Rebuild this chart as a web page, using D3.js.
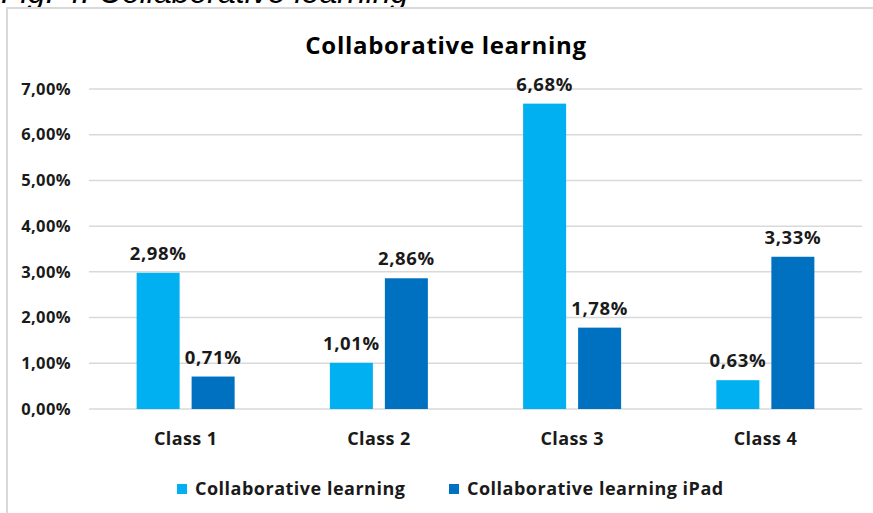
<!DOCTYPE html>
<html>
<head>
<meta charset="utf-8">
<script src="https://cdn.jsdelivr.net/npm/d3@7"></script>
<style>
  body { margin: 0; background: #fff; }
  text { font-family: "Open Sans", Lato, sans-serif; }
</style>
</head>
<body>
<div id="chart"></div>
<script>
// chart data
let categories = ["Class 1", "Class 2", "Class 3", "Class 4"];
let seriesNames = ["Collaborative learning", "Collaborative learning iPad"];
let seriesColors = ["#00b0f0", "#0070c0"];
let collab = [2.98, 1.01, 6.68, 0.63];
let collabIpad = [0.71, 2.86, 1.78, 3.33];
let tickValues = [0, 1, 2, 3, 4, 5, 6, 7];

let width = 873;
let height = 513;

let svg = d3.select("#chart").append("svg")
    .attr("width", width)
    .attr("height", height);

// caption cut off at the top
svg.append("text")
    .attr("x", 1)
    .attr("y", 3)
    .attr("font-style", "italic")
    .attr("font-size", 32)
    .attr("fill", "#000")
    .style("font-family", "'Liberation Sans', Arial, sans-serif")
    .text("Fig. 4: Collaborative learning");

// chart frame
svg.append("rect")
    .attr("x", 7)
    .attr("y", 8)
    .attr("width", 880)
    .attr("height", 520)
    .attr("fill", "#fff")
    .attr("stroke", "#d9d9d9")
    .attr("stroke-width", 2);

let margin = { left: 89, right: 862, top: 89, bottom: 409 };

let x = d3.scaleBand()
    .domain(categories)
    .range([margin.left, margin.right]);

// two bars per class, 43px wide with a 12px gap
let xs = d3.scaleBand()
    .domain(seriesNames)
    .range([0, 98])
    .paddingInner(0.218);

let y = d3.scaleLinear()
    .domain([0, 7])
    .range([margin.bottom, margin.top]);

// gridlines
svg.append("g")
    .selectAll("line")
    .data(tickValues)
    .join("line")
    .attr("x1", margin.left)
    .attr("x2", margin.right)
    .attr("y1", d => y(d))
    .attr("y2", d => y(d))
    .attr("stroke", "#d9d9d9")
    .attr("stroke-width", 1.5);

let fmt = v => v.toFixed(2).replace(".", ",") + "%";

// y tick labels
svg.append("g")
    .selectAll("text")
    .data(tickValues)
    .join("text")
    .attr("x", 71)
    .attr("y", d => y(d))
    .attr("dy", "0.35em")
    .attr("text-anchor", "end")
    .attr("font-size", 16.5)
    .attr("font-weight", "bold")
    .attr("letter-spacing", 0.4)
    .attr("fill", "#1a1a1a")
    .text(fmt);

// bars
let rows = categories.map((c, i) => ({ cat: c, vals: [collab[i], collabIpad[i]] }));

let groups = svg.append("g")
    .selectAll("g")
    .data(rows)
    .join("g")
    .attr("transform", d => `translate(${x(d.cat) + x.bandwidth() / 2 - 49},0)`);

let bars = groups.selectAll("g")
    .data(d => d.vals.map((v, j) => ({ v: v, s: seriesNames[j], j: j })))
    .join("g");

bars.append("rect")
    .attr("x", d => xs(d.s))
    .attr("y", d => y(d.v))
    .attr("width", xs.bandwidth())
    .attr("height", d => y(0) - y(d.v))
    .attr("fill", d => seriesColors[d.j]);

bars.append("text")
    .attr("x", d => xs(d.s) + xs.bandwidth() / 2)
    .attr("y", d => y(d.v) - 13)
    .attr("text-anchor", "middle")
    .attr("font-size", 18.5)
    .attr("font-weight", "bold")
    .attr("letter-spacing", 0.6)
    .attr("fill", "#1a1a1a")
    .text(d => fmt(d.v));

// category labels
svg.append("g")
    .selectAll("text")
    .data(categories)
    .join("text")
    .attr("x", d => x(d) + x.bandwidth() / 2)
    .attr("y", 445)
    .attr("text-anchor", "middle")
    .attr("font-size", 18)
    .attr("font-weight", "bold")
    .attr("letter-spacing", 0.4)
    .attr("fill", "#1a1a1a")
    .text(d => d);

// title
svg.append("text")
    .attr("x", 446)
    .attr("y", 54)
    .attr("text-anchor", "middle")
    .attr("font-size", 24)
    .attr("font-weight", "bold")
    .attr("letter-spacing", 0.7)
    .attr("fill", "#000")
    .text("Collaborative learning");

// legend
let legendX = [177, 449];
let legend = svg.append("g")
    .selectAll("g")
    .data(seriesNames)
    .join("g")
    .attr("transform", (d, i) => `translate(${legendX[i]},489)`);

legend.append("rect")
    .attr("x", 0)
    .attr("y", -5)
    .attr("width", 10)
    .attr("height", 10)
    .attr("fill", (d, i) => seriesColors[i]);

legend.append("text")
    .attr("x", 18)
    .attr("y", 0)
    .attr("dy", "0.35em")
    .attr("font-size", 18)
    .attr("font-weight", "bold")
    .attr("letter-spacing", 0.5)
    .attr("fill", "#1a1a1a")
    .text(d => d);
</script>
</body>
</html>
